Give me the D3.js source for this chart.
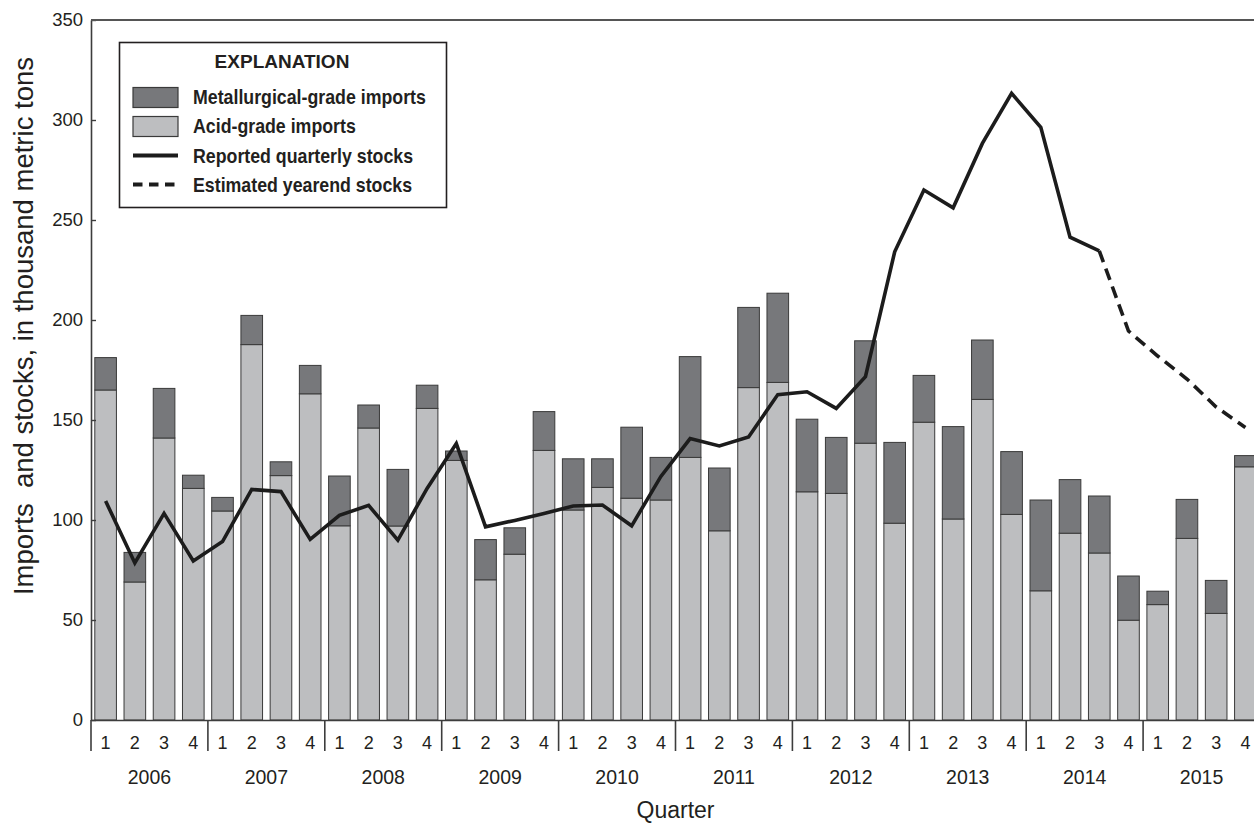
<!DOCTYPE html>
<html><head><meta charset="utf-8">
<script src="https://cdn.jsdelivr.net/npm/d3@7"></script>
<style>
body{margin:0;background:#fff}
svg{display:block}
text{font-family:"Liberation Sans",Arial,sans-serif;fill:#231f20}
</style>
</head><body>
<svg id="chart" width="1254" height="825"></svg>
<script>
// ---- data ----
const years = ["2006","2007","2008","2009","2010","2011","2012","2013","2014","2015"];
const quarterLabels = ["1","2","3","4"];
const acidGradeImports = [165,69,141,115.8, 104.5,187.7,122.2,163.1, 97.1,146,97,155.8, 129.8,70.1,82.9,134.8,
  105,116.3,110.9,110, 131.3,94.6,166.2,168.8, 114.1,113.3,138.4,98.4, 148.9,100.5,160.3,102.8,
  64.6,93.4,83.5,49.9, 57.7,90.8,53.3,126.6];
const metallurgicalGradeImports = [16.2,14.8,24.8,6.6, 6.8,14.6,6.9,14.2, 24.9,11.5,28.3,11.6, 4.7,20.1,13.2,19.4,
  25.6,14.3,35.5,21.3, 50.4,31.4,40.1,44.6, 36.3,28,51.2,40.4, 23.4,46.2,29.7,31.4,
  45.4,26.8,28.5,22.1, 6.7,19.5,16.5,5.6];
// reported quarterly stocks, 2006 Q1 – 2014 Q3
const reportedStocks = [109.5,78.5,103.3,79.5, 89.2,115.3,114.2,90.3, 102.3,107.3,89.9,115.8, 138.2,96.6,99.8,103.3,
  107,107.5,97.1,121.8, 140.7,137,141.5,162.7, 164.1,155.8,171.7,234.1, 265,256.1,288.3,313.3,
  296.3,241.4,234.6];
// estimated stocks, 2014 Q3 – 2015 Q4
const estimatedStocks = [234.6,194.5,182,170.5,156.5,146.3];
const estimatedStart = 34;
const yTicks = [0,50,100,150,200,250,300,350];
const legendItems = ["Metallurgical-grade imports","Acid-grade imports","Reported quarterly stocks","Estimated yearend stocks"];

// ---- setup ----
const categories = [];
years.forEach(y => quarterLabels.forEach(q => categories.push(y + "-" + q)));

const svg = d3.select("#chart");
const X0 = 91, X1 = 1260, Y0 = 720, Y1 = 20;
const x = d3.scaleBand().domain(categories).range([X0, X1]).paddingInner(0.26).paddingOuter(0.13);
const xYear = d3.scaleBand().domain(years).range([X0, X1]);
const y = d3.scaleLinear().domain([0, 350]).range([Y0, Y1]);

const COL_METAL = "#77787b", COL_ACID = "#bdbec0", COL_EDGE = "#3a3a3a", COL_AXIS = "#3d3d3d", COL_LINE = "#1c1c1c";

// bars
const barData = categories.map((c, i) => ({c, acid: acidGradeImports[i], metal: metallurgicalGradeImports[i]}));
const bars = svg.append("g");
bars.selectAll("rect.acid").data(barData).join("rect")
  .attr("class","acid")
  .attr("x", d => x(d.c)).attr("width", x.bandwidth())
  .attr("y", d => y(d.acid)).attr("height", d => y(0) - y(d.acid))
  .attr("fill", COL_ACID).attr("stroke", COL_EDGE).attr("stroke-width", 1);
bars.selectAll("rect.metal").data(barData).join("rect")
  .attr("class","metal")
  .attr("x", d => x(d.c)).attr("width", x.bandwidth())
  .attr("y", d => y(d.acid + d.metal)).attr("height", d => y(d.acid) - y(d.acid + d.metal))
  .attr("fill", COL_METAL).attr("stroke", COL_EDGE).attr("stroke-width", 1);

// axes
const gl = svg.append("g").attr("transform", `translate(${X0},0)`)
  .call(d3.axisLeft(y).tickValues(yTicks).tickSizeInner(-5).tickSizeOuter(0).tickPadding(8));
gl.select(".domain").attr("stroke", COL_AXIS).attr("stroke-width", 1.6);
gl.selectAll(".tick line").attr("stroke", COL_AXIS).attr("stroke-width", 1.4);
gl.selectAll(".tick text").attr("font-size", "18.5px").attr("fill", "#231f20")
  .attr("font-family", '"Liberation Sans",Arial,sans-serif');

const gr = svg.append("g").attr("transform", `translate(${X1},0)`)
  .call(d3.axisLeft(y).tickValues(yTicks).tickSizeInner(6).tickSizeOuter(0).tickFormat(""));
gr.select(".domain").attr("stroke", COL_AXIS).attr("stroke-width", 1.6);
gr.selectAll(".tick line").attr("stroke", COL_AXIS).attr("stroke-width", 1.4);

// top frame line
svg.append("line").attr("x1", X0).attr("x2", X1).attr("y1", y(350)).attr("y2", y(350))
  .attr("stroke", "#555").attr("stroke-width", 1.8);

// bottom axis with quarter labels
const gb = svg.append("g").attr("transform", `translate(0,${Y0})`)
  .call(d3.axisBottom(x).tickSize(0).tickPadding(16).tickFormat(d => d.split("-")[1]));
gb.select(".domain").attr("stroke", COL_AXIS).attr("stroke-width", 1.6);
gb.selectAll(".tick text").attr("font-size", "18px").attr("fill", "#231f20")
  .attr("font-family", '"Liberation Sans",Arial,sans-serif');

// year separators and labels
const sepX = years.map(yr => xYear(yr)).concat([X1]);
svg.append("g").selectAll("line").data(sepX).join("line")
  .attr("x1", d => d).attr("x2", d => d).attr("y1", Y0).attr("y2", Y0 + 31)
  .attr("stroke", COL_AXIS).attr("stroke-width", 1.6);
svg.append("g").selectAll("text").data(years).join("text")
  .attr("x", d => xYear(d) + xYear.bandwidth() / 2).attr("y", 784)
  .attr("text-anchor", "middle").attr("font-size", "19.5px").text(d => d);

// axis titles
svg.append("text").attr("x", (X0 + X1) / 2).attr("y", 818).attr("text-anchor", "middle")
  .attr("font-size", "23px").text("Quarter");
svg.append("text").attr("transform", "translate(33,326) rotate(-90)").attr("text-anchor", "middle")
  .attr("font-size", "27.5px").style("white-space", "pre")
  .text("Imports  and stocks, in thousand metric tons");

// stock lines
const cx = i => x(categories[i]) + x.bandwidth() / 2;
const line = d3.line().x(d => cx(d.i)).y(d => y(d.v));
svg.append("path").datum(reportedStocks.map((v, i) => ({i, v})))
  .attr("d", line).attr("fill", "none").attr("stroke", COL_LINE).attr("stroke-width", 3.6)
  .attr("stroke-linejoin", "miter");
svg.append("path").datum(estimatedStocks.map((v, k) => ({i: estimatedStart + k, v})))
  .attr("d", line).attr("fill", "none").attr("stroke", COL_LINE).attr("stroke-width", 3.6)
  .attr("stroke-dasharray", "12,7").attr("stroke-linejoin", "miter");

// legend
const lg = svg.append("g");
lg.append("rect").attr("x", 119.5).attr("y", 42.5).attr("width", 327).attr("height", 165)
  .attr("fill", "#fff").attr("stroke", "#231f20").attr("stroke-width", 1.6);
lg.append("text").attr("x", 282).attr("y", 68).attr("text-anchor", "middle")
  .attr("font-size", "19px").attr("font-weight", "bold").text("EXPLANATION");
const rowY = [104, 133, 162.5, 192];
lg.selectAll("text.item").data(legendItems).join("text").attr("class", "item")
  .attr("transform", (d, i) => `translate(193,${rowY[i]}) scale(0.846,1)`)
  .attr("font-size", "21px").attr("font-weight", "bold").text(d => d);
lg.append("rect").attr("x", 133).attr("y", 87.5).attr("width", 45).attr("height", 20)
  .attr("fill", COL_METAL).attr("stroke", COL_EDGE).attr("stroke-width", 1.2);
lg.append("rect").attr("x", 133).attr("y", 116.5).attr("width", 45).attr("height", 20)
  .attr("fill", COL_ACID).attr("stroke", COL_EDGE).attr("stroke-width", 1.2);
lg.append("line").attr("x1", 133).attr("x2", 178).attr("y1", 155.5).attr("y2", 155.5)
  .attr("stroke", COL_LINE).attr("stroke-width", 3.8);
lg.append("line").attr("x1", 133).attr("x2", 178).attr("y1", 184.5).attr("y2", 184.5)
  .attr("stroke", COL_LINE).attr("stroke-width", 3.8).attr("stroke-dasharray", "9.5,6.5");
</script>
</body></html>
